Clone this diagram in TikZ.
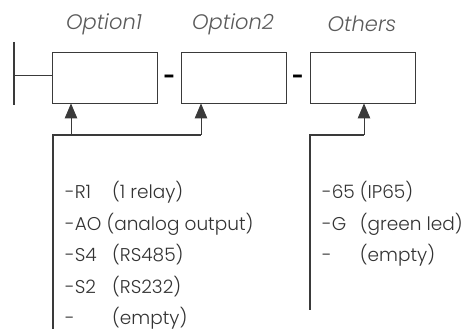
\documentclass[tikz,border=0pt]{standalone}
\usepackage{fontspec}
\setmainfont{Poppins}[UprightFont=* Light, ItalicFont=* Light Italic, BoldFont=* Bold]
\usetikzlibrary{arrows.meta}

\definecolor{linegray}{HTML}{3A3A3A}
\definecolor{titlegray}{HTML}{5A5A5A}
\definecolor{textgray}{HTML}{333333}

\tikzset{
  optbox/.style = {draw=linegray, line width=0.9pt, minimum width=105pt, minimum height=51pt, inner sep=0pt},
  optlabel/.style = {text=titlegray, font=\fontsize{21}{23}\selectfont\itshape},
  listline/.style = {anchor=base west, text=textgray, inner sep=0pt, font=\listfont},
  sepdash/.style = {font=\fontsize{20}{22}\selectfont\bfseries, text=black},
  bus/.style = {draw=linegray, line width=1.1pt},
  feed/.style = {draw=linegray, line width=0.9pt, -{Triangle[width=12.5pt,length=15pt]}}
}
\newcommand{\listfont}{\fontsize{18.5}{20}\selectfont}
\newlength{\codewd}
\newcommand{\code}[1]{\makebox[47pt][l]{#1}}
\newcommand{\codeb}[1]{\makebox[\codewd][l]{#1}}

\begin{document}
\settowidth{\codewd}{\listfont -65\ }
\begin{tikzpicture}[x=1pt, y=-1pt]
	\useasboundingbox (0,0) rectangle (475,331);
	% the three option fields
	\node[optbox] (opt1) at (104.5,77.5) {};
	\node[optbox] (opt2) at (233.5,77.5) {};
	\node[optbox] (opt3) at (362.5,77.5) {};
	\node[optlabel] (lab1) at (104,24) {Option1};
	\node[optlabel] (lab2) at (233,24) {Option2};
	\node[optlabel] (lab3) at (362,24) {Others};
	\node[sepdash] (dash1) at (169.5,79) {-};
	\node[sepdash] (dash2) at (298,79) {-};
	% product stem on the left
	\coordinate (stemtop) at (14,42);
	\coordinate (stembot) at (14,105);
	\coordinate (stemmid) at (14,75);
	\draw[bus] (stemtop) -- (stembot);
	\draw[feed, -] (stemmid) -- (stemmid -| opt1.west);
	% feeders for option 1 and 2
	\coordinate (busA) at (53,135);
	\coordinate (busAend) at (53,329);
	\coordinate (tap1) at (71,135);
	\coordinate (tap2) at (201,135);
	\draw[bus] (busAend) -- (busA) -- (tap2);
	\draw[feed] (tap1) -- (tap1 |- opt1.south);
	\draw[feed] (tap2) -- (tap2 |- opt2.south);
	% feeder for the others
	\coordinate (busB) at (310,135);
	\coordinate (busBend) at (310,310);
	\coordinate (tap3) at (364,135);
	\draw[bus] (busBend) -- (busB) -- (tap3);
	\draw[feed] (tap3) -- (tap3 |- opt3.south);
	% choices
	\node[listline] (r1) at (65,199) {\code{-R1}(1 relay)};
	\node[listline] (ao) at (65,230.5) {-AO (analog output)};
	\node[listline] (s4) at (65,262) {\code{-S4}(RS485)};
	\node[listline] (s2) at (65,293.5) {\code{-S2}(RS232)};
	\node[listline] (no1) at (65,325) {\code{-}(empty)};
	\node[listline] (ip) at (322,199) {\codeb{-65}(IP65)};
	\node[listline] (gl) at (322,230.5) {\codeb{-G}(green led)};
	\node[listline] (no2) at (322,262) {\codeb{-}(empty)};
\end{tikzpicture}
\end{document}
